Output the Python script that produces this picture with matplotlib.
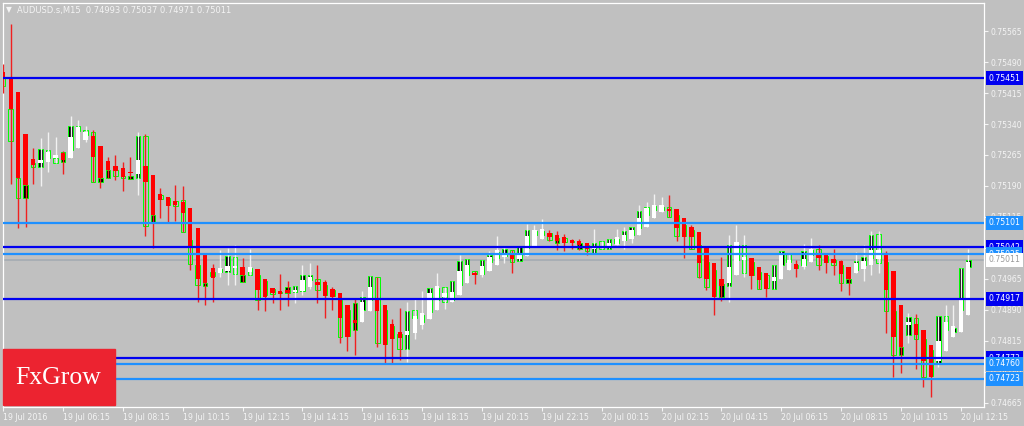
import numpy as np
import matplotlib.pyplot as plt
from matplotlib.patches import Rectangle
from matplotlib.transforms import blended_transform_factory

# AUDUSD.s M15, 19 Jul 2016 04:15 -> 20 Jul 12:30
# Heiken Ashi overlay (red / white) on top of the real candles (lime outline)
ha_open = [0.75466, 0.75451, 0.75417, 0.75316, 0.75255, 0.75246, 0.75248, 0.75258, 0.75270, 0.75258,
           0.75282, 0.75301, 0.75311, 0.75287, 0.75250, 0.75238, 0.75233, 0.75224, 0.75219, 0.75238,
           0.75216, 0.75171, 0.75163, 0.75154, 0.75151, 0.75137, 0.75088, 0.75023, 0.74991, 0.74979,
           0.74984, 0.74991, 0.74994, 0.74982, 0.74989, 0.74965, 0.74943, 0.74936, 0.74938, 0.74933,
           0.74936, 0.74945, 0.74958, 0.74958, 0.74941, 0.74931, 0.74902, 0.74866, 0.74861, 0.74887,
           0.74916, 0.74902, 0.74856, 0.74837, 0.74829, 0.74834, 0.74853, 0.74868, 0.74890, 0.74921,
           0.74909, 0.74926, 0.74955, 0.74979, 0.74974, 0.74984, 0.74999, 0.75018, 0.75023, 0.75013,
           0.75020, 0.75045, 0.75062, 0.75076, 0.75071, 0.75066, 0.75059, 0.75057, 0.75052, 0.75037,
           0.75040, 0.75042, 0.75047, 0.75057, 0.75062, 0.75071, 0.75091, 0.75112, 0.75127, 0.75134,
           0.75134, 0.75112, 0.75091, 0.75079, 0.75040, 0.75004, 0.74965, 0.74955, 0.74974, 0.75011,
           0.75016, 0.74994, 0.74979, 0.74960, 0.74965, 0.74987, 0.75001, 0.74994, 0.75006, 0.75023,
           0.75023, 0.75013, 0.75008, 0.74994, 0.74979, 0.74989, 0.74999, 0.75013, 0.75023, 0.74984,
           0.74902, 0.74853, 0.74856, 0.74841, 0.74805, 0.74766, 0.74791, 0.74824, 0.74837, 0.74878]
ha_close = [0.75451, 0.75376, 0.75209, 0.75192, 0.75241, 0.75253, 0.75272, 0.75265, 0.75253, 0.75308,
            0.75333, 0.75321, 0.75260, 0.75209, 0.75229, 0.75226, 0.75212, 0.75221, 0.75253, 0.75200,
            0.75120, 0.75156, 0.75141, 0.75144, 0.75125, 0.75040, 0.74965, 0.74955, 0.74967, 0.74991,
            0.74996, 0.74996, 0.74974, 0.74994, 0.74938, 0.74921, 0.74931, 0.74929, 0.74931, 0.74938,
            0.74962, 0.74970, 0.74950, 0.74924, 0.74921, 0.74870, 0.74824, 0.74858, 0.74909, 0.74945,
            0.74887, 0.74805, 0.74820, 0.74822, 0.74839, 0.74875, 0.74883, 0.74931, 0.74948, 0.74931,
            0.74933, 0.74984, 0.74999, 0.74974, 0.74996, 0.75018, 0.75035, 0.75028, 0.75013, 0.75023,
            0.75069, 0.75083, 0.75086, 0.75066, 0.75057, 0.75052, 0.75052, 0.75047, 0.75037, 0.75045,
            0.75045, 0.75052, 0.75066, 0.75071, 0.75083, 0.75112, 0.75137, 0.75144, 0.75144, 0.75129,
            0.75088, 0.75066, 0.75066, 0.75004, 0.74965, 0.74921, 0.74948, 0.74994, 0.75054, 0.75018,
            0.74972, 0.74962, 0.74941, 0.74970, 0.75028, 0.75011, 0.74989, 0.75013, 0.75037, 0.75016,
            0.75004, 0.75004, 0.74977, 0.74965, 0.75004, 0.75008, 0.75035, 0.75035, 0.74938, 0.74824,
            0.74800, 0.74861, 0.74829, 0.74766, 0.74728, 0.74815, 0.74861, 0.74851, 0.74916, 0.75006]
ha_high = [0.75485, 0.75582, 0.75417, 0.75316, 0.75282, 0.75306, 0.75321, 0.75308, 0.75275, 0.75359,
           0.75350, 0.75335, 0.75325, 0.75287, 0.75260, 0.75265, 0.75248, 0.75260, 0.75321, 0.75316,
           0.75216, 0.75185, 0.75163, 0.75192, 0.75190, 0.75137, 0.75088, 0.75023, 0.75001, 0.75035,
           0.75040, 0.75047, 0.75016, 0.75037, 0.74989, 0.74965, 0.74943, 0.74977, 0.74960, 0.74948,
           0.74999, 0.75004, 0.74999, 0.74962, 0.74945, 0.74931, 0.74902, 0.74916, 0.74936, 0.74972,
           0.74970, 0.74902, 0.74868, 0.74895, 0.74909, 0.74916, 0.74936, 0.74943, 0.74979, 0.74945,
           0.74960, 0.75023, 0.75013, 0.74984, 0.75011, 0.75033, 0.75069, 0.75045, 0.75035, 0.75045,
           0.75098, 0.75095, 0.75110, 0.75083, 0.75081, 0.75074, 0.75062, 0.75062, 0.75052, 0.75086,
           0.75057, 0.75062, 0.75086, 0.75091, 0.75091, 0.75144, 0.75151, 0.75171, 0.75163, 0.75168,
           0.75134, 0.75112, 0.75095, 0.75079, 0.75040, 0.75004, 0.75018, 0.75071, 0.75095, 0.75071,
           0.75016, 0.74994, 0.74979, 0.74999, 0.75033, 0.75028, 0.75011, 0.75050, 0.75064, 0.75047,
           0.75023, 0.75037, 0.75011, 0.74994, 0.75030, 0.75047, 0.75081, 0.75081, 0.75033, 0.74984,
           0.74902, 0.74883, 0.74880, 0.74841, 0.74805, 0.74875, 0.74902, 0.74902, 0.74991, 0.75037]
ha_low = [0.75415, 0.75195, 0.75088, 0.75091, 0.75195, 0.75190, 0.75224, 0.75246, 0.75219, 0.75258,
          0.75282, 0.75296, 0.75200, 0.75185, 0.75209, 0.75204, 0.75178, 0.75207, 0.75168, 0.75069,
          0.75040, 0.75112, 0.75103, 0.75105, 0.75079, 0.74987, 0.74909, 0.74902, 0.74909, 0.74970,
          0.74950, 0.74950, 0.74958, 0.74974, 0.74890, 0.74887, 0.74907, 0.74890, 0.74899, 0.74907,
          0.74926, 0.74941, 0.74907, 0.74870, 0.74890, 0.74810, 0.74791, 0.74781, 0.74861, 0.74887,
          0.74800, 0.74762, 0.74762, 0.74769, 0.74764, 0.74820, 0.74844, 0.74868, 0.74890, 0.74892,
          0.74909, 0.74926, 0.74955, 0.74953, 0.74970, 0.74984, 0.74999, 0.75004, 0.74979, 0.75008,
          0.75020, 0.75045, 0.75062, 0.75057, 0.75035, 0.75033, 0.75037, 0.75035, 0.75023, 0.75028,
          0.75037, 0.75037, 0.75047, 0.75037, 0.75052, 0.75071, 0.75091, 0.75112, 0.75127, 0.75115,
          0.75057, 0.75016, 0.75037, 0.74967, 0.74938, 0.74878, 0.74912, 0.74909, 0.74974, 0.74970,
          0.74941, 0.74941, 0.74921, 0.74941, 0.74965, 0.74987, 0.74970, 0.74989, 0.75006, 0.74987,
          0.74979, 0.74974, 0.74936, 0.74926, 0.74979, 0.74960, 0.74974, 0.74979, 0.74834, 0.74728,
          0.74737, 0.74810, 0.74747, 0.74703, 0.74679, 0.74752, 0.74791, 0.74824, 0.74837, 0.74878]
bar_open = [0.75451, 0.75376, 0.75209, 0.75161, 0.75246, 0.75236, 0.75277, 0.75258, 0.75248, 0.75277,
            0.75335, 0.75325, 0.75321, 0.75200, 0.75209, 0.75229, 0.75214, 0.75207, 0.75209, 0.75311,
            0.75100, 0.75168, 0.75161, 0.75154, 0.75156, 0.75059, 0.74999, 0.74948, 0.74982, 0.74982,
            0.74982, 0.75018, 0.74958, 0.74991, 0.74974, 0.74960, 0.74941, 0.74933, 0.74931, 0.74933,
            0.74936, 0.74962, 0.74965, 0.74950, 0.74938, 0.74914, 0.74890, 0.74841, 0.74890, 0.74914,
            0.74970, 0.74890, 0.74851, 0.74832, 0.74795, 0.74890, 0.74861, 0.74885, 0.74914, 0.74945,
            0.74914, 0.74950, 0.74974, 0.74984, 0.74977, 0.75006, 0.75016, 0.75020, 0.75035, 0.75008,
            0.75040, 0.75071, 0.75071, 0.75076, 0.75052, 0.75064, 0.75057, 0.75037, 0.75047, 0.75028,
            0.75057, 0.75037, 0.75052, 0.75059, 0.75071, 0.75088, 0.75120, 0.75132, 0.75132, 0.75139,
            0.75120, 0.75095, 0.75083, 0.75047, 0.75006, 0.74987, 0.74921, 0.74948, 0.75011, 0.75047,
            0.75006, 0.74982, 0.74974, 0.74941, 0.74999, 0.75028, 0.74999, 0.74999, 0.75023, 0.75037,
            0.75020, 0.75011, 0.74999, 0.74955, 0.74987, 0.74999, 0.75016, 0.75074, 0.75006, 0.74887,
            0.74781, 0.74829, 0.74870, 0.74820, 0.74793, 0.74762, 0.74875, 0.74837, 0.74890, 0.74993]
bar_close = [0.75432, 0.75299, 0.75161, 0.75192, 0.75236, 0.75279, 0.75258, 0.75246, 0.75272, 0.75335,
             0.75323, 0.75313, 0.75200, 0.75209, 0.75229, 0.75214, 0.75209, 0.75214, 0.75311, 0.75093,
             0.75120, 0.75158, 0.75144, 0.75141, 0.75079, 0.75001, 0.74950, 0.74955, 0.74972, 0.74989,
             0.75020, 0.74977, 0.74974, 0.74974, 0.74914, 0.74926, 0.74929, 0.74931, 0.74945, 0.74948,
             0.74974, 0.74974, 0.74938, 0.74926, 0.74924, 0.74824, 0.74827, 0.74907, 0.74921, 0.74972,
             0.74810, 0.74808, 0.74822, 0.74795, 0.74887, 0.74870, 0.74878, 0.74943, 0.74943, 0.74909,
             0.74960, 0.75008, 0.75013, 0.74977, 0.75011, 0.75023, 0.75030, 0.75037, 0.75006, 0.75045,
             0.75083, 0.75081, 0.75081, 0.75059, 0.75064, 0.75054, 0.75054, 0.75052, 0.75033, 0.75052,
             0.75037, 0.75062, 0.75062, 0.75081, 0.75091, 0.75129, 0.75139, 0.75141, 0.75139, 0.75115,
             0.75069, 0.75069, 0.75037, 0.74970, 0.74945, 0.74924, 0.74953, 0.75047, 0.75047, 0.74979,
             0.74974, 0.74941, 0.74943, 0.74999, 0.75033, 0.75006, 0.74991, 0.75033, 0.75035, 0.74999,
             0.75006, 0.74999, 0.74955, 0.74965, 0.75008, 0.75018, 0.75071, 0.75004, 0.74887, 0.74781,
             0.74800, 0.74873, 0.74820, 0.74728, 0.74730, 0.74875, 0.74841, 0.74846, 0.74991, 0.75011]

time_labels = ["19 Jul 2016", "19 Jul 06:15", "19 Jul 08:15", "19 Jul 10:15", "19 Jul 12:15",
               "19 Jul 14:15", "19 Jul 16:15", "19 Jul 18:15", "19 Jul 20:15", "19 Jul 22:15",
               "20 Jul 00:15", "20 Jul 02:15", "20 Jul 04:15", "20 Jul 06:15", "20 Jul 08:15",
               "20 Jul 10:15", "20 Jul 12:15"]
price_ticks = [0.75565, 0.75490, 0.75415, 0.75340, 0.75265, 0.75190, 0.75115, 0.75040,
               0.74965, 0.74890, 0.74815, 0.74740, 0.74665]

# support / resistance lines
dark_levels = [0.75451, 0.75042, 0.74917, 0.74773]
light_levels = [0.75101, 0.75025, 0.74760, 0.74723]
bid_price = 0.75011

BG = "#c0c0c0"
TXT = "#f4f4f4"
DARK = "#0000f0"
LIGHT = "#1e90ff"

ha_open = np.array(ha_open)
ha_close = np.array(ha_close)
bar_open = np.array(bar_open)
bar_close = np.array(bar_close)
idx = np.arange(len(ha_open))
min_h = 0.000025

fig = plt.figure(figsize=(10.24, 4.26), dpi=100, facecolor=BG)
ax = fig.add_axes([3 / 1024, 19 / 426, 981 / 1024, 404 / 426], facecolor=BG)

# real candles (lime outline, black = bull, silver = bear)
bull = bar_close >= bar_open
ax.bar(idx, np.maximum(np.abs(bar_close - bar_open), min_h),
       bottom=np.minimum(bar_open, bar_close), width=0.6,
       color=np.where(bull, "black", BG), edgecolor="#00ff00", linewidth=0.7, zorder=2)

# bid line behind the candles
ax.axhline(bid_price, color="#a4abb2", lw=1.2, zorder=1.5)

# heiken ashi
up = ha_close >= ha_open
ha_col = np.where(up, "white", "#ff0000")
ax.vlines(idx, ha_low, ha_high, colors=np.where(up, "#f2f2f2", "#f02020"), lw=1.0, zorder=3)
ax.bar(idx, np.maximum(np.abs(ha_close - ha_open), min_h),
       bottom=np.minimum(ha_open, ha_close), width=0.58, color=ha_col, linewidth=0, zorder=4)

for lv in dark_levels:
    ax.axhline(lv, color=DARK, lw=1.6, zorder=5)
for lv in light_levels:
    ax.axhline(lv, color=LIGHT, lw=1.6, zorder=5)

ax.set_xlim(-0.03, 131.1)
ax.set_ylim(0.746552, 0.756328)

ax.set_xticks(idx[::8][:len(time_labels)])
ax.set_xticklabels(time_labels)
for lab in ax.get_xticklabels():
    lab.set_horizontalalignment("left")
ax.yaxis.tick_right()
ax.set_yticks(price_ticks)
ax.set_yticklabels(["%.5f" % p for p in price_ticks])
ax.tick_params(axis="x", colors=TXT, labelsize=5.7, length=3, width=0.8, pad=1.5)
ax.tick_params(axis="y", colors=TXT, labelsize=5.5, length=3, width=0.8, pad=2)
for sp in ax.spines.values():
    sp.set_color("white")
    sp.set_linewidth(0.9)

# price labels on the right axis
trans = blended_transform_factory(ax.transAxes, ax.transData)
boxes = [(p, DARK, "white") for p in dark_levels] + [(p, LIGHT, "white") for p in light_levels]
boxes.append((bid_price, "white", "#9a9a9a"))
for p, fc, tc in boxes:
    ax.text(1.0045, p, "%.5f" % p, transform=trans, ha="left", va="center", fontsize=5.6,
            color=tc, zorder=20, clip_on=False,
            bbox=dict(boxstyle="square,pad=0.3", fc=fc, ec="none"))

# header
fig.text(6 / 1024, 1 - 10 / 426, "\u25bc", fontsize=5.5, color=TXT, va="center")
fig.text(17 / 1024, 1 - 10 / 426, "AUDUSD.s,M15  0.74993 0.75037 0.74971 0.75011",
         fontsize=6, color=TXT, va="center")

# logo
fig.add_artist(Rectangle((3 / 1024, 21 / 426), 112 / 1024, 56 / 426,
                         transform=fig.transFigure, color="#ec2330", zorder=10))
fig.text(58 / 1024, 1 - 378 / 426, "FxGrow", family="Liberation Serif", fontsize=18.5,
         color="white", ha="center", va="center", zorder=11)

fig.savefig("out.png", dpi=100, facecolor=BG)
